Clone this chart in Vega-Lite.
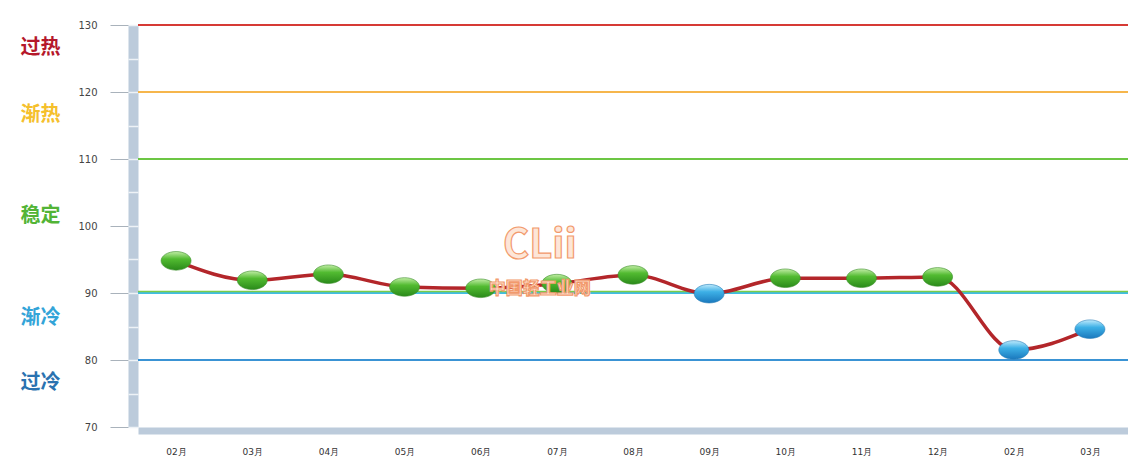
{
  "$schema": "https://vega.github.io/schema/vega-lite/v6.json",
  "width": 990,
  "height": 402,
  "autosize": {"type": "none"},
  "padding": {"left": 138, "top": 25, "right": 0, "bottom": 30},
  "background": "white",
  "config": {"view": {"stroke": null}, "font": "DejaVu Sans"},
  "datasets": {
    "series": [
      {"period": "2018-02", "v": 94.8},
      {"period": "2018-03", "v": 91.9},
      {"period": "2018-04", "v": 92.8},
      {"period": "2018-05", "v": 90.9},
      {"period": "2018-06", "v": 90.7},
      {"period": "2018-07", "v": 91.4},
      {"period": "2018-08", "v": 92.7},
      {"period": "2018-09", "v": 89.9},
      {"period": "2018-10", "v": 92.2},
      {"period": "2018-11", "v": 92.2},
      {"period": "2018-12", "v": 92.4},
      {"period": "2019-02", "v": 81.5},
      {"period": "2019-03", "v": 84.6}
    ],
    "levels": [
      {"level": "过热", "v": 130},
      {"level": "渐热", "v": 120},
      {"level": "稳定", "v": 110},
      {"level": "渐冷", "v": 90},
      {"level": "过冷", "v": 80}
    ],
    "mark": [
      {"period": "2018-07", "v": 97.0, "t": "CLii"},
      {"period": "2018-07", "v": 90.6, "t": "中国轻工业网"}
    ]
  },
  "resolve": {"axis": {"y": "independent"}},
  "layer": [
    {
      "data": {"name": "levels"},
      "mark": {"type": "rule", "strokeWidth": 2},
      "encoding": {
        "y": {
          "field": "v", "type": "quantitative",
          "scale": {"domain": [70, 130], "nice": false, "zero": false},
          "axis": {
            "orient": "left", "title": null, "grid": false,
            "values": [70, 80, 90, 100, 110, 120, 130],
            "offset": 5,
            "domain": true, "domainColor": "#bccbdb", "domainWidth": 10,
            "ticks": true, "tickColor": "#a9b2bb", "tickSize": 23, "tickWidth": 1,
            "labelPadding": 13, "labelFont": "DejaVu Sans", "labelFontSize": 10,
            "labelColor": "#444444", "labelFlush": false, "labelOverlap": false
          }
        },
        "color": {
          "field": "level", "type": "nominal", "legend": null,
          "scale": {"domain": ["过热", "渐热", "稳定", "渐冷", "过冷"],
                    "range": ["#d63a35", "#f6b64c", "#6cc644", "#40bde3", "#3a93d4"]}
        }
      }
    },
    {
      "data": {"name": "levels"},
      "transform": [{"filter": "datum.v == 90"}],
      "mark": {"type": "rule", "strokeWidth": 1.5, "color": "#7acb4a", "yOffset": -1.5},
      "encoding": {
        "y": {"field": "v", "type": "quantitative", "scale": {"domain": [70, 130], "nice": false, "zero": false}, "axis": null}
      }
    },
    {
      "data": {"name": "series"},
      "mark": {"type": "line", "color": "#b3262a", "strokeWidth": 3.5, "interpolate": "monotone"},
      "encoding": {
        "x": {
          "field": "period", "type": "ordinal", "bandPosition": 0.5,
          "scale": {"type": "band", "paddingInner": 0, "paddingOuter": 0},
          "axis": {
            "title": null, "orient": "bottom", "offset": 3.5,
            "domain": true, "domainColor": "#bccbdb", "domainWidth": 7,
            "ticks": true, "tickBand": "extent", "tickColor": "white", "tickWidth": 2, "tickSize": 7,
            "labelAngle": 0, "labelPadding": 10, "labelFont": "DejaVu Sans", "labelFontSize": 9,
            "labelColor": "#333333",
            "labelExpr": "length(datum.label || '') > 5 ? substring(datum.label, 5) + '月' : ''"
          }
        },
        "y": {
          "field": "v", "type": "quantitative",
          "scale": {"domain": [70, 130], "nice": false, "zero": false},
          "axis": {
            "orient": "left", "title": null, "grid": false, "domain": false, "ticks": false,
            "offset": 0,
            "values": [126.6, 116.6, 101.5, 86.3, 76.6],
            "labelExpr": "datum.value > 125 ? '过热' : datum.value > 110 ? '渐热' : datum.value > 95 ? '稳定' : datum.value > 80 ? '渐冷' : '过冷'",
            "labelAlign": "left", "labelBaseline": "middle", "labelPadding": 118,
            "labelFont": "Noto Sans CJK SC", "labelFontSize": 20, "labelFontWeight": "bold",
            "labelFlush": false, "labelOverlap": false,
            "labelColor": {
              "condition": [
                {"test": "datum.value > 125", "value": "#b5182b"},
                {"test": "datum.value > 110", "value": "#f5c02c"},
                {"test": "datum.value > 95", "value": "#52b436"},
                {"test": "datum.value > 80", "value": "#33a4d8"}
              ],
              "value": "#2a72b0"
            }
          }
        }
      }
    },
    {
      "data": {"name": "series"},
      "transform": [{"filter": "datum.v >= 90"}],
      "mark": {
        "type": "point", "filled": true, "opacity": 1, "size": 900,
        "shape": "M-1,0A1,0.62,0,1,0,1,0A1,0.62,0,1,0,-1,0Z",
        "fill": {"gradient": "linear", "x1": 0, "y1": 0, "x2": 0, "y2": 1,
                 "stops": [{"offset": 0, "color": "#c2eda6"}, {"offset": 0.4, "color": "#52bb31"}, {"offset": 1, "color": "#2a8a1a"}]},
        "stroke": "#3d8f2c", "strokeWidth": 0.6
      },
      "encoding": {
        "x": {
          "field": "period", "type": "ordinal", "bandPosition": 0.5,
          "scale": {"type": "band", "paddingInner": 0, "paddingOuter": 0}
        },
        "y": {
          "field": "v", "type": "quantitative",
          "scale": {"domain": [70, 130], "nice": false, "zero": false},
          "axis": {
            "orient": "left", "title": null, "grid": false, "domain": false, "labels": false,
            "offset": 0, "values": [70, 75, 80, 85, 90, 95, 100, 105, 110, 115, 120, 125, 130],
            "ticks": true, "tickColor": "#eef2f6", "tickSize": 10, "tickWidth": 1.5
          }
        }
      }
    },
    {
      "data": {"name": "series"},
      "transform": [{"filter": "datum.v < 90"}],
      "mark": {
        "type": "point", "filled": true, "opacity": 1, "size": 900,
        "shape": "M-1,0A1,0.62,0,1,0,1,0A1,0.62,0,1,0,-1,0Z",
        "fill": {"gradient": "linear", "x1": 0, "y1": 0, "x2": 0, "y2": 1,
                 "stops": [{"offset": 0, "color": "#bfeafc"}, {"offset": 0.4, "color": "#3db0e6"}, {"offset": 1, "color": "#1a78bd"}]},
        "stroke": "#2a80b8", "strokeWidth": 0.6
      },
      "encoding": {
        "x": {
          "field": "period", "type": "ordinal", "bandPosition": 0.5,
          "scale": {"type": "band", "paddingInner": 0, "paddingOuter": 0}
        },
        "y": {"field": "v", "type": "quantitative", "scale": {"domain": [70, 130], "nice": false, "zero": false}, "axis": null}
      }
    },
    {
      "data": {"name": "mark"},
      "mark": {"type": "text", "font": "Noto Sans CJK SC", "fontWeight": "bold",
               "xOffset": -17, "stroke": "#f29a6c", "strokeWidth": 1.2, "fill": "#fde6d8", "baseline": "middle"},
      "encoding": {
        "x": {"field": "period", "type": "ordinal", "bandPosition": 0.5, "scale": {"type": "band", "paddingInner": 0, "paddingOuter": 0}},
        "y": {"field": "v", "type": "quantitative", "scale": {"domain": [70, 130], "nice": false, "zero": false}, "axis": null},
        "text": {"field": "t"},
        "size": {"field": "t", "type": "nominal", "legend": null,
                 "scale": {"domain": ["CLii", "中国轻工业网"], "range": [40, 17]}}
      }
    }
  ]
}
